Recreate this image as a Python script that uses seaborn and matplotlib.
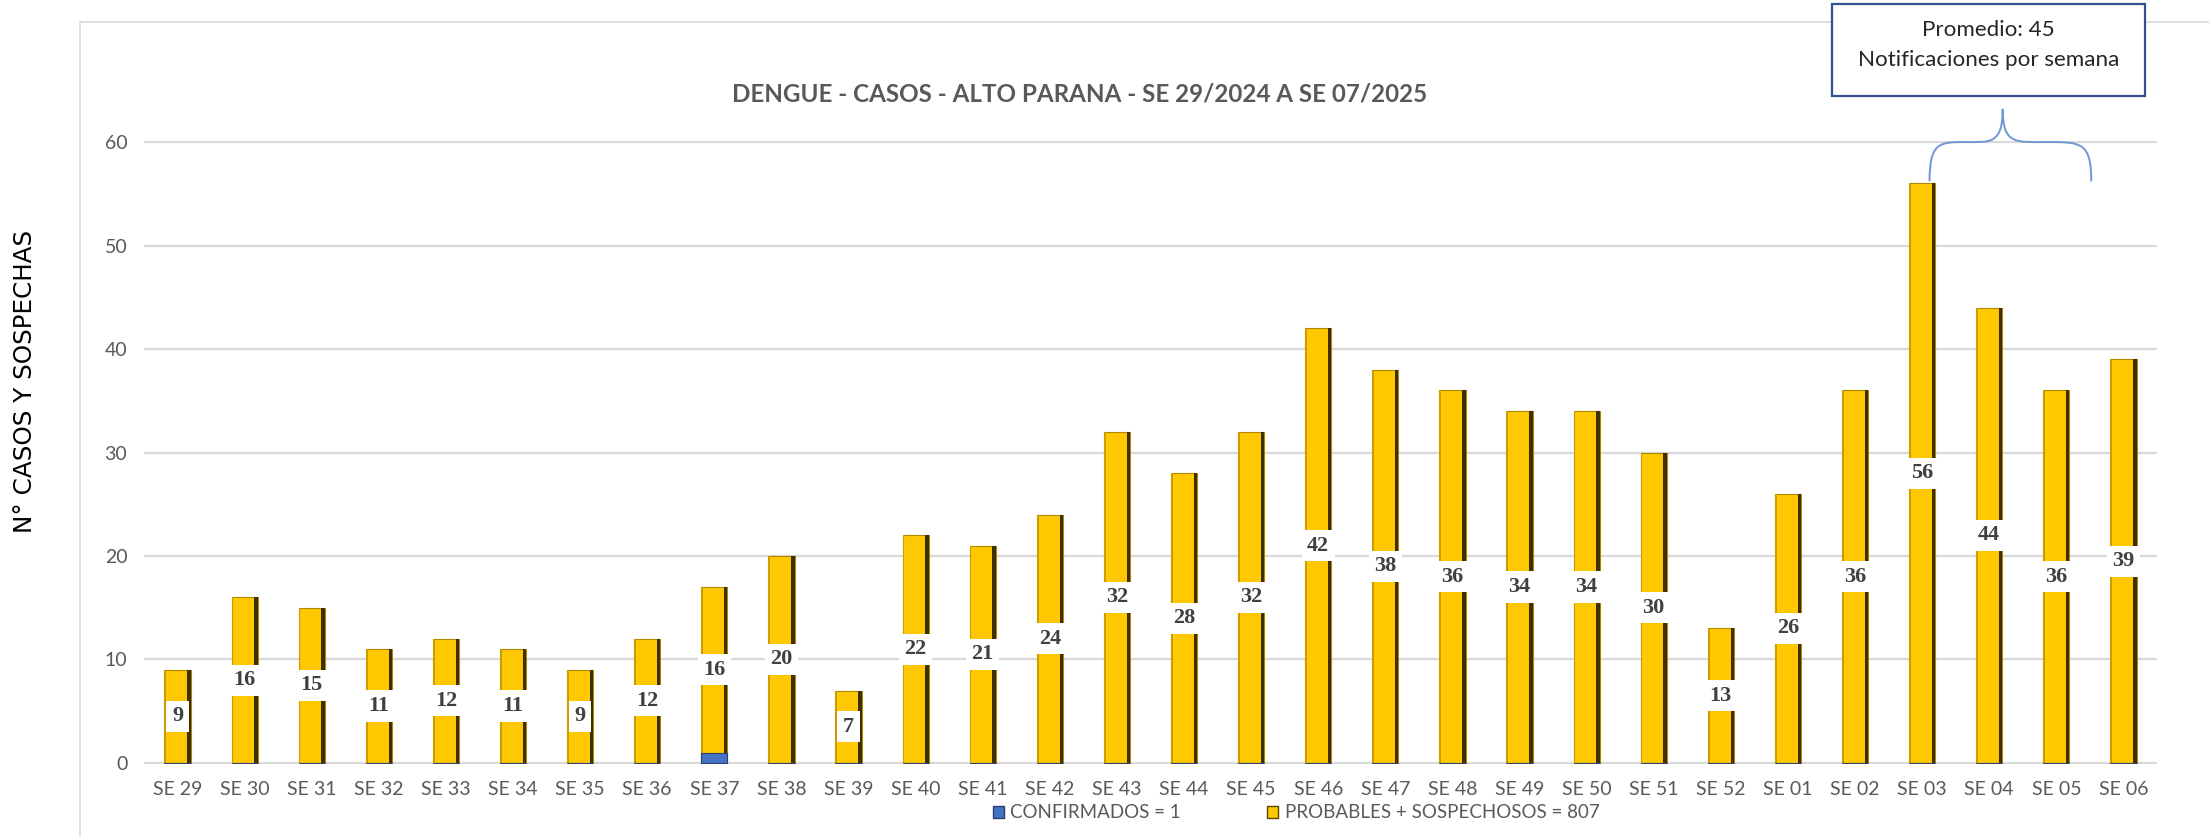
import matplotlib
matplotlib.use("Agg")
import pandas as pd
import matplotlib.pyplot as plt
import seaborn as sns
from matplotlib.patches import Rectangle, Patch, PathPatch
from matplotlib.path import Path

# Datos por semana epidemiologica
semanas = ["SE 29", "SE 30", "SE 31", "SE 32", "SE 33", "SE 34", "SE 35", "SE 36",
           "SE 37", "SE 38", "SE 39", "SE 40", "SE 41", "SE 42", "SE 43", "SE 44",
           "SE 45", "SE 46", "SE 47", "SE 48", "SE 49", "SE 50", "SE 51", "SE 52",
           "SE 01", "SE 02", "SE 03", "SE 04", "SE 05", "SE 06"]
confirmados = [0, 0, 0, 0, 0, 0, 0, 0, 1, 0, 0, 0, 0, 0, 0,
               0, 0, 0, 0, 0, 0, 0, 0, 0, 0, 0, 0, 0, 0, 0]
probables = [9, 16, 15, 11, 12, 11, 9, 12, 16, 20, 7, 22, 21, 24, 32,
             28, 32, 42, 38, 36, 34, 34, 30, 13, 26, 36, 56, 44, 36, 39]
titulo = "DENGUE - CASOS - ALTO PARANA - SE 29/2024 A SE 07/2025"
eje_y = "N° CASOS Y SOSPECHAS"
leyenda = ["CONFIRMADOS = 1", "PROBABLES + SOSPECHOSOS = 807"]
nota = ["Promedio: 45", "Notificaciones por semana"]

GOLD = "#FFC800"
BLUE = "#4472C4"
GRAY = "#595959"

sns.set_theme(style="white")
plt.rcParams["font.family"] = ["Lato", "DejaVu Sans"]

df = pd.DataFrame({"semana": semanas, "confirmados": confirmados, "probables": probables})
df["total"] = df["confirmados"] + df["probables"]
n = len(df)

W, H = 2209, 836
fig = plt.figure(figsize=(W / 100, H / 100), dpi=100)
ax = fig.add_axes([144 / W, 1 - 764 / H, 2013 / W, 623 / H])


def fit(txt, target, vertical=False):
    # ajusta el tamano de letra para ocupar el ancho medido en la imagen
    fig.canvas.draw()
    bb = txt.get_window_extent(fig.canvas.get_renderer())
    size = bb.height if vertical else bb.width
    txt.set_fontsize(txt.get_fontsize() * target / size)
    return txt.get_fontsize()


# marco exterior del grafico
fig.add_artist(Rectangle((80 / W, -0.2), 1.5, 1.2 - 22 / H, transform=fig.transFigure,
                         fill=False, edgecolor="#D9D9D9", lw=1.2))

sns.barplot(data=df, x="semana", y="total", color=GOLD, saturation=1, width=0.39,
            errorbar=None, ax=ax, zorder=2)
sns.barplot(data=df, x="semana", y="confirmados", color=BLUE, saturation=1, width=0.39,
            errorbar=None, ax=ax, zorder=3)

# efecto de relieve de las barras
for p, c in zip(ax.patches[:n], df["confirmados"]):
    p.set_edgecolor("#B08800")
    p.set_linewidth(0.8)
    x, w, top = p.get_x(), p.get_width(), p.get_height()
    ax.add_patch(Rectangle((x + w * 0.87, c), w * 0.13, top - c, facecolor="#3D3000",
                           edgecolor="none", zorder=2.5))
    ax.add_patch(Rectangle((x, c), w * 0.07, top - c, facecolor="#C99E00",
                           edgecolor="none", zorder=2.5))
for p in ax.patches[n:2 * n]:
    p.set_edgecolor("#2F3F6F")
    p.set_linewidth(0.8)

# etiquetas de valores
for i, (c, pr) in enumerate(zip(df["confirmados"], df["probables"])):
    ax.text(i, c + pr / 2, str(pr), ha="center", va="center", fontsize=16,
            fontweight="bold", family=["Liberation Serif", "DejaVu Serif"], color="#404040",
            bbox=dict(boxstyle="square,pad=0.25", fc="white", ec="none"), zorder=5)

ax.set_xlim(-0.5, n - 0.5)
ax.set_ylim(-0.1, 60.1)
ax.set_yticks(range(0, 61, 10))
ax.yaxis.grid(True, color="#D9D9D9", lw=1.6)
ax.set_axisbelow(True)
for s in ax.spines.values():
    s.set_visible(False)
ax.set_xlabel("")
ax.set_ylabel("")
ax.tick_params(axis="both", length=0, labelsize=14, colors=GRAY)
ax.tick_params(axis="x", pad=12)
ax.tick_params(axis="y", pad=12)

t = fig.text(1079.5 / W, 1 - 94 / H, titulo, ha="center", va="center", fontsize=19,
             fontweight="bold", color=GRAY)
fit(t, 695)

yl = fig.text(25 / W, 1 - 381 / H, eje_y, rotation=90, ha="center", va="center",
              fontsize=15, color="black", family="DejaVu Sans")
fit(yl, 303, vertical=True)

# cuadro del promedio
fig.add_artist(Rectangle((1832 / W, 1 - 96 / H), 313 / W, 92 / H, transform=fig.transFigure,
                         facecolor="white", edgecolor="#2F528F", lw=1.6, zorder=5))
t1 = fig.text(1988.7 / W, 1 - 30 / H, nota[0], ha="center", va="center", fontsize=15,
              color="#262626", zorder=6)
t2 = fig.text(1988.7 / W, 1 - 60 / H, nota[1], ha="center", va="center", fontsize=15,
              color="#262626", zorder=6)
t1.set_fontsize(fit(t2, 260))

# llave sobre las ultimas semanas
x0, xm, x1 = 26.11, 27.2, 28.52
y0, ymid, ytop = 56.2, 60.0, 63.2
verts = [(x0, y0), (x0, ymid), (x0 + 0.15, ymid), ((x0 + xm) / 2, ymid),
         (xm - 0.2, ymid), (xm, ymid - 0.3), (xm, ytop),
         (xm, ymid - 0.3), (xm + 0.2, ymid), ((xm + x1) / 2, ymid),
         (x1 - 0.15, ymid), (x1, ymid), (x1, y0)]
codes = [Path.MOVETO] + [Path.CURVE4] * 12
ax.add_patch(PathPatch(Path(verts, codes), fill=False, edgecolor="#7096D4", lw=1.4,
                       clip_on=False, zorder=6))

# leyenda
fs = 13.5
handles = [Patch(facecolor=BLUE, edgecolor="#2F3F6F"), Patch(facecolor=GOLD, edgecolor="#5A4500")]
fig.legend(handles=handles, labels=leyenda, loc="center left",
           bbox_to_anchor=(993 / W, 1 - 813 / H), ncol=2, frameon=False, fontsize=fs,
           borderpad=0, borderaxespad=0, handlelength=8 / fs, handleheight=8 / fs,
           handletextpad=4.5 / fs, columnspacing=62 / fs, labelcolor=GRAY)

fig.savefig("out.png", dpi=100)
